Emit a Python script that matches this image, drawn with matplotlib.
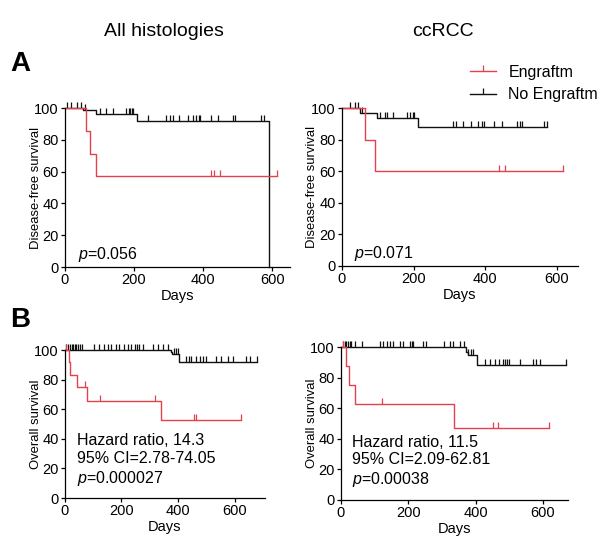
import numpy as np
import matplotlib
matplotlib.use('Agg')
import matplotlib.pyplot as plt
from matplotlib.lines import Line2D

plt.rcParams['font.family'] = ['Liberation Sans', 'DejaVu Sans']
plt.rcParams['mathtext.fontset'] = 'custom'
plt.rcParams['mathtext.rm'] = 'Liberation Sans'
plt.rcParams['mathtext.it'] = 'Liberation Sans:italic'

RED = '#e5404e'
BLACK = '#111111'

# ---- A, all histologies (disease-free survival) ----
dfs_all_eng_t = [0, 60, 72, 91, 612]
dfs_all_eng_s = [100, 85.7, 71.4, 57.1, 57.1]
dfs_all_eng_c = [423, 432, 449, 612]

dfs_all_no_t = [0, 53, 91, 209, 590, 590]
dfs_all_no_s = [100, 98.5, 96.0, 91.9, 0, 0]
dfs_all_no_c = [5, 19, 34, 48, 58, 101, 118, 139, 178, 185, 189, 193, 197,
                240, 293, 303, 312, 331, 355, 370, 379, 387, 391, 423, 442,
                485, 493, 567, 576]

# ---- A, ccRCC (disease-free survival) ----
dfs_cc_eng_t = [0, 65, 92, 618]
dfs_cc_eng_s = [100, 80, 60, 60]
dfs_cc_eng_c = [438, 455, 618]

dfs_cc_no_t = [0, 51, 97, 212, 572]
dfs_cc_no_s = [100, 96.8, 93.5, 88.0, 88.0]
dfs_cc_no_c = [23, 35, 46, 55, 106, 120, 126, 143, 180, 189, 197, 201,
               309, 318, 337, 360, 380, 392, 397, 425, 446, 489, 497, 501,
               565, 572]

# ---- B, all histologies (overall survival) ----
os_all_eng_t = [0, 14, 20, 43, 79, 340, 622]
os_all_eng_s = [100, 91.7, 83.3, 75.0, 65.6, 52.5, 52.5]
os_all_eng_c = [6, 73, 126, 319, 456, 464, 622]

os_all_no_t = [0, 375, 380, 405, 678]
os_all_no_s = [100, 98.6, 97.2, 91.7, 91.7]
os_all_no_c = [6, 12, 18, 24, 29, 35, 41, 47, 53, 62, 102, 121, 137, 153,
               164, 180, 191, 208, 223, 235, 247, 255, 262, 278, 311, 329,
               346, 364, 387, 393, 399, 429, 438, 446, 464, 476, 487, 499,
               534, 552, 575, 593, 642, 654, 678]

# ---- B, ccRCC (overall survival) ----
os_cc_eng_t = [0, 15, 25, 42, 337, 617]
os_cc_eng_s = [100, 87.5, 75.0, 62.5, 46.9, 46.9]
os_cc_eng_c = [6, 123, 452, 465, 617]

os_cc_no_t = [0, 371, 376, 403, 669]
os_cc_no_s = [100, 96.8, 94.5, 88.4, 88.4]
os_cc_no_c = [6, 11, 16, 21, 26, 31, 42, 62, 116, 126, 136, 146, 154, 176,
              185, 205, 210, 215, 245, 253, 307, 324, 334, 353, 366, 378,
              385, 391, 427, 442, 457, 470, 480, 487, 494, 500, 531, 570,
              578, 590, 669]


def km(ax, t, s, c, color):
    t = np.asarray(t, float)
    s = np.asarray(s, float)
    ax.plot(t, s, drawstyle='steps-post', color=color, lw=1.0, clip_on=False)
    c = np.asarray(c, float)
    idx = np.searchsorted(t, c, side='right') - 1
    ax.plot(c, s[idx], ls='none', marker=2, ms=4, mew=0.9, color=color,
            clip_on=False)


def style(ax, xmax, ylabel, ylab_x):
    ax.set_xlim(0, xmax)
    ax.set_ylim(0, 100)
    ax.set_xticks([0, 200, 400, 600])
    ax.set_yticks([0, 20, 40, 60, 80, 100])
    for sp in ['top', 'right']:
        ax.spines[sp].set_visible(False)
    for sp in ['left', 'bottom']:
        ax.spines[sp].set_linewidth(0.9)
    ax.tick_params(direction='out', length=3, width=0.9, labelsize=10.5, pad=1.5)
    ax.set_xlabel('Days', fontsize=10.5, labelpad=1)
    ax.set_ylabel(ylabel, fontsize=9.4)
    ax.yaxis.set_label_coords(ylab_x, 0.5)


fig = plt.figure(figsize=[6.0, 5.54], dpi=100)

ax1 = fig.add_axes([0.108, 0.518, 0.375, 0.287])
km(ax1, dfs_all_no_t, dfs_all_no_s, dfs_all_no_c, BLACK)
km(ax1, dfs_all_eng_t, dfs_all_eng_s, dfs_all_eng_c, RED)
style(ax1, 650, 'Disease-free survival', -0.102)
ax1.text(0.06, 0.05, r'$\it{p}$=0.056', transform=ax1.transAxes, fontsize=11.5)

ax2 = fig.add_axes([0.570, 0.520, 0.393, 0.285])
km(ax2, dfs_cc_no_t, dfs_cc_no_s, dfs_cc_no_c, BLACK)
km(ax2, dfs_cc_eng_t, dfs_cc_eng_s, dfs_cc_eng_c, RED)
style(ax2, 658, 'Disease-free survival', -0.10)
ax2.text(0.05, 0.05, r'$\it{p}$=0.071', transform=ax2.transAxes, fontsize=11.5)

ax3 = fig.add_axes([0.108, 0.101, 0.333, 0.267])
km(ax3, os_all_no_t, os_all_no_s, os_all_no_c, BLACK)
km(ax3, os_all_eng_t, os_all_eng_s, os_all_eng_c, RED)
style(ax3, 706, 'Overall survival', -0.115)
ax3.text(0.06, 0.07, 'Hazard ratio, 14.3\n95% CI=2.78-74.05\n' + r'$\it{p}$=0.000027',
         transform=ax3.transAxes, fontsize=11.5, linespacing=1.2, va='bottom')

ax4 = fig.add_axes([0.568, 0.0975, 0.378, 0.276])
km(ax4, os_cc_no_t, os_cc_no_s, os_cc_no_c, BLACK)
km(ax4, os_cc_eng_t, os_cc_eng_s, os_cc_eng_c, RED)
style(ax4, 673, 'Overall survival', -0.10)
ax4.text(0.05, 0.07, 'Hazard ratio, 11.5\n95% CI=2.09-62.81\n' + r'$\it{p}$=0.00038',
         transform=ax4.transAxes, fontsize=11.5, linespacing=1.2, va='bottom')

fig.text(164/600, 1 - 31/554, 'All histologies', ha='center', va='center', fontsize=14)
fig.text(443/600, 1 - 31/554, 'ccRCC', ha='center', va='center', fontsize=14)
fig.text(20/600, 1 - 64/554, 'A', ha='center', va='center', fontsize=20, fontweight='bold')
fig.text(20/600, 1 - 320/554, 'B', ha='center', va='center', fontsize=20, fontweight='bold')

handles = [Line2D([], [], color=RED, lw=1.0, marker=2, ms=4, mew=0.9),
           Line2D([], [], color=BLACK, lw=1.0, marker=2, ms=4, mew=0.9)]
fig.legend(handles, ['Engraftm', 'No Engraftm'], loc='upper left',
           bbox_to_anchor=(470/600, 1 - 65/554), frameon=False, fontsize=11.5,
           handlelength=1.6, handletextpad=0.8, labelspacing=0.45,
           borderaxespad=0, borderpad=0)

fig.savefig('out.png', dpi=100)
